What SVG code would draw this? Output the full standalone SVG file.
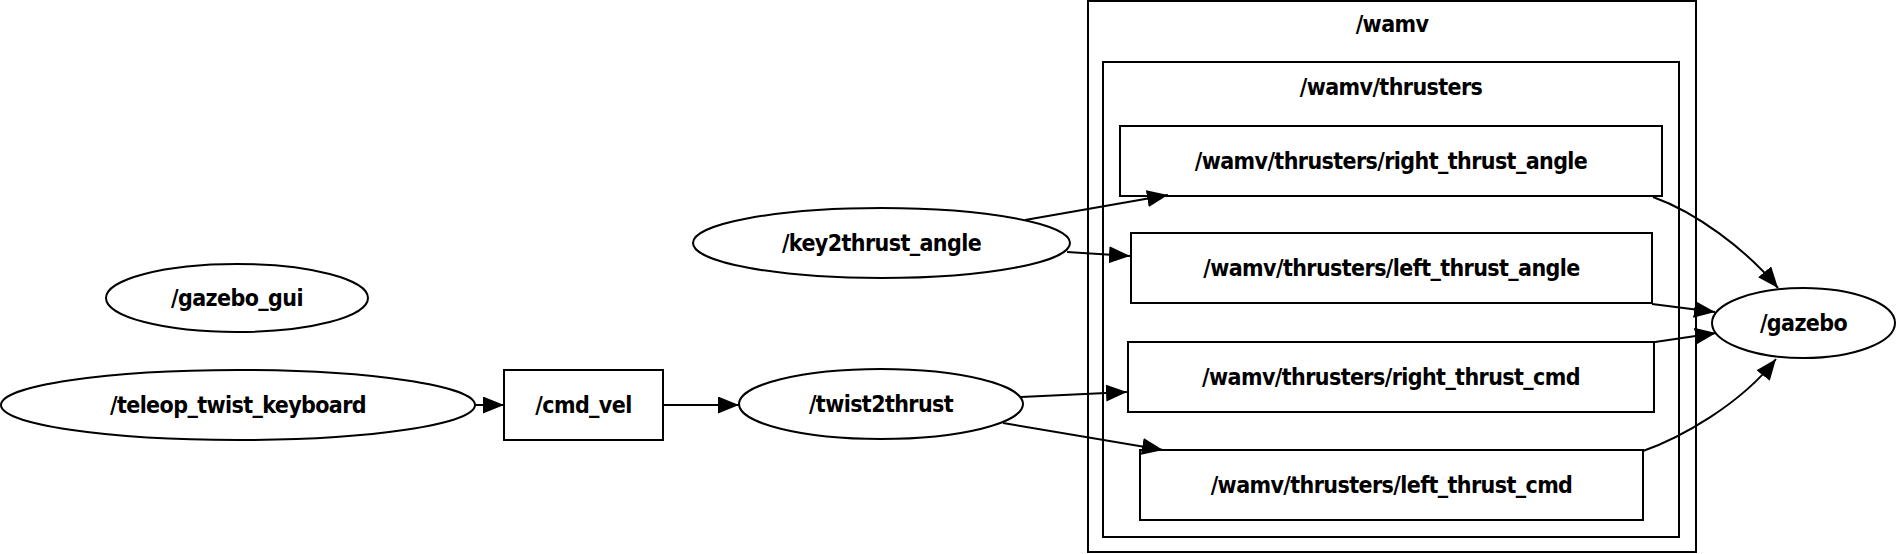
<svg xmlns="http://www.w3.org/2000/svg" width="1896" height="554" viewBox="0 0 1896 554">
<style>
.n{fill:#fff;stroke:#000;stroke-width:2}
.c{fill:none;stroke:#000;stroke-width:2}
.e{fill:none;stroke:#000;stroke-width:2}
text{font-family:"DejaVu Sans Condensed","DejaVu Sans",sans-serif;font-stretch:condensed;font-weight:bold;font-size:23px;letter-spacing:-0.6px;text-anchor:middle;fill:#000}
</style>
<defs>
<marker id="ah" markerUnits="userSpaceOnUse" markerWidth="22" markerHeight="18" refX="21" refY="8.5" orient="auto">
<path d="M0,0 L21,8.5 L0,17 Z" fill="#000"/>
</marker>
</defs>
<rect width="1896" height="554" fill="#fff"/>
<g id="cluster_wamv">
<rect class="c" x="1088" y="1" width="608" height="551"/>
<text x="1392" y="32">/wamv</text>
</g>
<g id="cluster_wamv_thrusters">
<rect class="c" x="1103" y="62" width="576" height="475"/>
<text x="1391" y="95">/wamv/thrusters</text>
</g>
<g id="gazebo_gui">
<ellipse class="n" cx="237" cy="298" rx="131" ry="34"/>
<text x="237" y="306">/gazebo_gui</text>
</g>
<g id="teleop_twist_keyboard">
<ellipse class="n" cx="238" cy="405" rx="237" ry="35"/>
<text x="238" y="413">/teleop_twist_keyboard</text>
</g>
<g id="cmd_vel">
<rect class="n" x="504" y="370" width="159" height="70"/>
<text x="583.5" y="413">/cmd_vel</text>
</g>
<g id="twist2thrust">
<ellipse class="n" cx="881" cy="404" rx="142" ry="35"/>
<text x="881" y="412">/twist2thrust</text>
</g>
<g id="key2thrust_angle">
<ellipse class="n" cx="881.5" cy="243" rx="188.5" ry="35"/>
<text x="881.5" y="251">/key2thrust_angle</text>
</g>
<g id="right_thrust_angle">
<rect class="n" x="1120" y="126" width="542" height="70"/>
<text x="1391" y="169">/wamv/thrusters/right_thrust_angle</text>
</g>
<g id="left_thrust_angle">
<rect class="n" x="1131" y="233" width="521" height="70"/>
<text x="1391.5" y="276">/wamv/thrusters/left_thrust_angle</text>
</g>
<g id="right_thrust_cmd">
<rect class="n" x="1128" y="342" width="526" height="70"/>
<text x="1391" y="385">/wamv/thrusters/right_thrust_cmd</text>
</g>
<g id="left_thrust_cmd">
<rect class="n" x="1140" y="450" width="503" height="70"/>
<text x="1391.5" y="493">/wamv/thrusters/left_thrust_cmd</text>
</g>
<g id="gazebo">
<ellipse class="n" cx="1803.5" cy="323" rx="91.5" ry="35"/>
<text x="1803.5" y="331">/gazebo</text>
</g>
<g id="connectors">
<path class="e" marker-end="url(#ah)" d="M475,405 L504,405"/>
<path class="e" marker-end="url(#ah)" d="M663,405 L739,405"/>
<path class="e" marker-end="url(#ah)" d="M1025,220 L1168,195"/>
<path class="e" marker-end="url(#ah)" d="M1067,252 L1130,256"/>
<path class="e" marker-end="url(#ah)" d="M1021,397 L1127,392"/>
<path class="e" marker-end="url(#ah)" d="M1003,423 L1163,450"/>
<path class="e" marker-end="url(#ah)" d="M1653,197 C1695,212 1745,248 1778,288"/>
<path class="e" marker-end="url(#ah)" d="M1652,304 L1715,312"/>
<path class="e" marker-end="url(#ah)" d="M1655,342 L1716,333"/>
<path class="e" marker-end="url(#ah)" d="M1643,451 C1680,438 1740,405 1776,359"/>
</g>
</svg>
